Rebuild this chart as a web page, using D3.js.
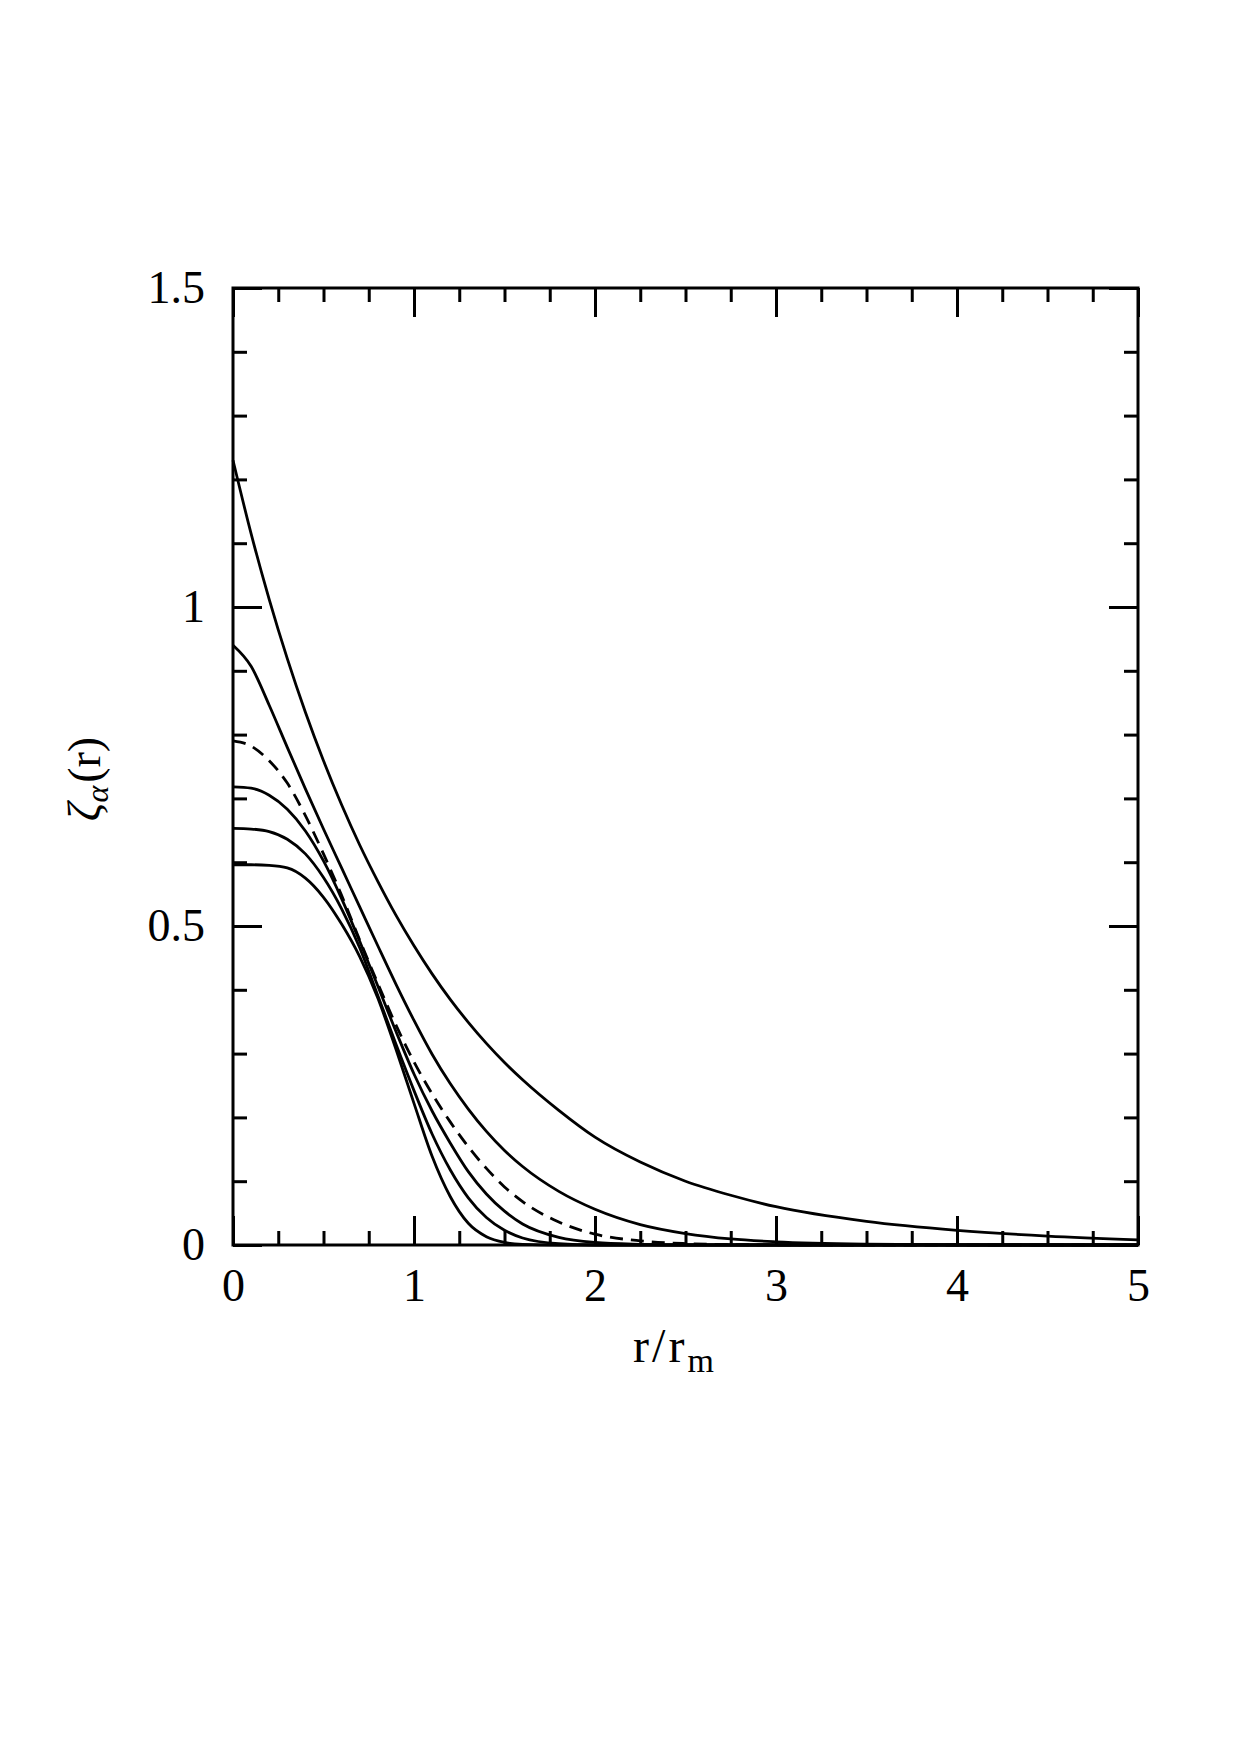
<!DOCTYPE html>
<html>
<head>
<meta charset="utf-8">
<script src="https://cdnjs.cloudflare.com/ajax/libs/d3/7.8.5/d3.min.js"></script>
<style>
  body { margin: 0; background: #fff; }
  .axis text { font-family: "Liberation Serif", "DejaVu Serif", serif; font-size: 46px; fill: #000; }
  .axis line { stroke: #000; stroke-width: 3px; }
  .axis path { display: none; }
</style>
</head>
<body>
<div class="chart"></div>
<script>
var rValues = [0, 0.1, 0.2, 0.3, 0.4, 0.5, 0.6, 0.7, 0.8, 0.9, 1.0, 1.1, 1.2, 1.3, 1.4, 1.5, 1.6, 1.8, 2.0, 2.25, 2.5, 2.75, 3.0, 3.5, 4.0, 4.5, 5.0];

// solid curves, top to bottom at r = 0
var curveA = [1.23, 1.115, 1.012, 0.919, 0.835, 0.759, 0.690, 0.627, 0.570, 0.517, 0.469, 0.425, 0.385, 0.349, 0.316, 0.286, 0.259, 0.211, 0.169, 0.130, 0.100, 0.078, 0.060, 0.037, 0.023, 0.014, 0.008];
var curveB = [0.94, 0.907, 0.846, 0.780, 0.715, 0.652, 0.591, 0.530, 0.469, 0.409, 0.352, 0.299, 0.253, 0.213, 0.178, 0.148, 0.123, 0.084, 0.056, 0.032, 0.018, 0.0095, 0.005, 0.0013, 0.0003, 0, 0];
var curveC = [0.718, 0.716, 0.705, 0.683, 0.649, 0.602, 0.543, 0.476, 0.406, 0.335, 0.268, 0.21, 0.16, 0.115, 0.08, 0.053, 0.033, 0.012, 0.004, 0.001, 0, 0, 0, 0, 0, 0, 0];
var curveD = [0.653, 0.652, 0.648, 0.636, 0.613, 0.576, 0.527, 0.466, 0.391, 0.315, 0.242, 0.174, 0.118, 0.074, 0.043, 0.023, 0.011, 0.002, 0, 0, 0, 0, 0, 0, 0, 0, 0];
var curveE = [0.596, 0.596, 0.595, 0.591, 0.575, 0.545, 0.503, 0.452, 0.387, 0.307, 0.222, 0.139, 0.076, 0.034, 0.013, 0.004, 0.001, 0, 0, 0, 0, 0, 0, 0, 0, 0, 0];
// dashed curve
var curveDashed = [0.79, 0.782, 0.759, 0.724, 0.673, 0.613, 0.548, 0.478, 0.41, 0.345, 0.287, 0.237, 0.193, 0.154, 0.12, 0.091, 0.068, 0.036, 0.017, 0.0065, 0.0022, 0.0006, 0.0002, 0, 0, 0, 0];

// ticks
var xMajorTicks = [0, 1, 2, 3, 4, 5];
var xMinorTicks = [0.25, 0.5, 0.75, 1.25, 1.5, 1.75, 2.25, 2.5, 2.75, 3.25, 3.5, 3.75, 4.25, 4.5, 4.75];
var yMajorTicks = [0, 0.5, 1, 1.5];
var yMinorTicks = [0.1, 0.2, 0.3, 0.4, 0.6, 0.7, 0.8, 0.9, 1.1, 1.2, 1.3, 1.4];

var svgWidth = 1240;
var svgHeight = 1755;

var margin = { top: 288, left: 233 };
var width = 905;
var height = 957;

var svg = d3.select(".chart")
    .append("svg")
    .attr("width", svgWidth)
    .attr("height", svgHeight);

var chartGroup = svg.append("g")
    .attr("transform", `translate(${margin.left}, ${margin.top})`);

var xScale = d3.scaleLinear().domain([0, 5]).range([0, width]);
var yScale = d3.scaleLinear().domain([0, 1.5]).range([height, 0]);

var fmt = d => String(d);

// bottom and left axes with labels, ticks pointing inward
chartGroup.append("g")
    .attr("class", "axis")
    .attr("transform", `translate(0, ${height})`)
    .call(d3.axisBottom(xScale).tickValues(xMajorTicks).tickSize(-29).tickPadding(23).tickFormat(fmt));
chartGroup.append("g")
    .attr("class", "axis")
    .attr("transform", `translate(0, ${height})`)
    .call(d3.axisBottom(xScale).tickValues(xMinorTicks).tickSize(-14).tickFormat(""));

chartGroup.append("g")
    .attr("class", "axis")
    .call(d3.axisLeft(yScale).tickValues(yMajorTicks).tickSize(-29).tickPadding(28).tickFormat(fmt));
chartGroup.append("g")
    .attr("class", "axis")
    .call(d3.axisLeft(yScale).tickValues(yMinorTicks).tickSize(-14).tickFormat(""));

// mirrored top and right axes
chartGroup.append("g")
    .attr("class", "axis")
    .call(d3.axisTop(xScale).tickValues(xMajorTicks).tickSize(-29).tickFormat(""));
chartGroup.append("g")
    .attr("class", "axis")
    .call(d3.axisTop(xScale).tickValues(xMinorTicks).tickSize(-14).tickFormat(""));
chartGroup.append("g")
    .attr("class", "axis")
    .attr("transform", `translate(${width}, 0)`)
    .call(d3.axisRight(yScale).tickValues(yMajorTicks).tickSize(-29).tickFormat(""));
chartGroup.append("g")
    .attr("class", "axis")
    .attr("transform", `translate(${width}, 0)`)
    .call(d3.axisRight(yScale).tickValues(yMinorTicks).tickSize(-14).tickFormat(""));

// frame
chartGroup.append("rect")
    .attr("x", 0)
    .attr("y", 0)
    .attr("width", width)
    .attr("height", height)
    .attr("fill", "none")
    .attr("stroke", "#000")
    .attr("stroke-width", 3);

// curves
var line = d3.line()
    .x((d, i) => xScale(rValues[i]))
    .y(d => yScale(d))
    .curve(d3.curveMonotoneX);

var solidCurves = [curveA, curveB, curveC, curveD, curveE];
solidCurves.forEach(function (values) {
    chartGroup.append("path")
        .attr("d", line(values))
        .attr("fill", "none")
        .attr("stroke", "#000")
        .attr("stroke-width", 2.8);
});

chartGroup.append("path")
    .attr("d", line(curveDashed))
    .attr("fill", "none")
    .attr("stroke", "#000")
    .attr("stroke-width", 2.8)
    .attr("stroke-dasharray", "13,8");

// axis titles
var xTitle = svg.append("text")
    .attr("x", 675)
    .attr("y", 1362)
    .attr("text-anchor", "middle")
    .style("font-family", "'Liberation Serif', 'DejaVu Serif', serif")
    .style("font-size", "48px")
    .style("letter-spacing", "3px");
xTitle.append("tspan").text("r/r");
xTitle.append("tspan").attr("dy", 10).style("font-size", "34px").text("m");

var yTitle = svg.append("text")
    .attr("transform", "translate(100, 779) rotate(-90)")
    .attr("text-anchor", "middle")
    .style("font-family", "'Liberation Serif', 'DejaVu Serif', serif")
    .style("font-size", "46px");
yTitle.append("tspan").style("font-style", "italic").text("ζ");
yTitle.append("tspan").attr("dy", 8).style("font-size", "32px").style("font-style", "italic").text("α");
yTitle.append("tspan").attr("dy", -8).attr("dx", 3).text("(r)");
</script>
</body>
</html>
